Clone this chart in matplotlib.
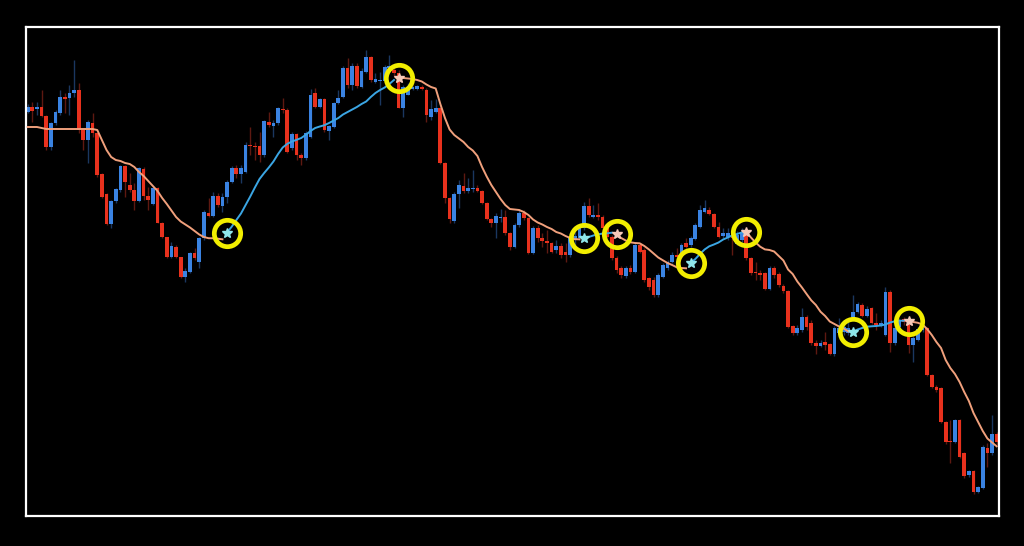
import matplotlib
matplotlib.use("Agg")
import matplotlib.pyplot as plt
import numpy as np

# candle prices (open / high / low / close), one value per bar
opens = [888, 893, 891, 893, 884, 853, 877, 887, 903, 902,
         907, 910, 870, 860, 877, 867, 826, 806, 776, 799,
         810, 834, 815, 810, 799, 831, 804, 796, 812, 777,
         763, 743, 753, 743, 723, 728, 747, 738, 762, 787,
         784, 804, 794, 803, 818, 832, 826, 828, 855, 854,
         854, 845, 878, 874, 877, 891, 890, 852, 866, 845,
         842, 863, 907, 893, 901, 869, 873, 897, 903, 932,
         915, 934, 913, 928, 943, 918, 919, 919, 932, 930,
         927, 892, 905, 911, 911, 913, 910, 883, 888, 892,
         837, 802, 779, 806, 814, 809, 811, 812, 809, 797,
         781, 777, 782, 783, 767, 753, 775, 787, 782, 747,
         772, 762, 759, 757, 750, 754, 748, 745, 760, 762,
         772, 794, 783, 785, 783, 772, 763, 742, 732, 724,
         732, 728, 755, 750, 722, 720, 705, 723, 732, 738,
         745, 743, 757, 755, 761, 773, 788, 790, 786, 773,
         764, 763, 766, 756, 760, 767, 742, 728, 727, 727,
         711, 732, 726, 714, 709, 674, 667, 670, 683, 677,
         657, 654, 658, 656, 646, 667, 668, 667, 683, 688,
         695, 684, 692, 677, 675, 665, 708, 657, 673, 681,
         681, 655, 660, 670, 672, 625, 613, 612, 578, 559,
         558, 580, 547, 525, 529, 508, 512, 552, 547, 566]

closes = [893, 889, 893, 884, 853, 877, 888, 903, 901, 907,
          910, 870, 860, 878, 867, 825, 803, 776, 799, 811,
          834, 818, 810, 799, 832, 804, 800, 812, 777, 763,
          743, 754, 743, 723, 729, 747, 742, 762, 788, 784,
          804, 795, 803, 818, 832, 826, 832, 855, 854, 853,
          845, 879, 875, 877, 892, 890, 848, 866, 845, 842,
          867, 905, 893, 901, 870, 874, 897, 902, 932, 915,
          934, 914, 929, 943, 920, 921, 920, 933, 934, 927,
          892, 913, 913, 913, 914, 911, 885, 891, 892, 837,
          802, 781, 806, 815, 809, 812, 812, 809, 797, 781,
          777, 784, 783, 767, 753, 775, 787, 782, 747, 772,
          762, 759, 757, 748, 754, 745, 745, 763, 764, 772,
          794, 785, 785, 783, 772, 763, 742, 730, 725, 732,
          728, 755, 748, 720, 713, 705, 725, 735, 738, 745,
          743, 755, 753, 762, 775, 790, 792, 786, 773, 763,
          767, 767, 762, 765, 768, 742, 727, 727, 725, 711,
          732, 725, 715, 709, 673, 667, 672, 683, 673, 657,
          654, 657, 655, 646, 672, 672, 673, 672, 688, 696,
          684, 691, 677, 675, 677, 708, 657, 672, 680, 678,
          655, 662, 671, 672, 625, 613, 610, 578, 558, 558,
          580, 543, 524, 529, 508, 513, 553, 547, 566, 558]

highs = [896, 898, 898, 910, 885, 878, 890, 910, 907, 915,
         940, 917, 870, 880, 887, 867, 827, 807, 800, 812,
         835, 835, 827, 817, 833, 833, 813, 813, 813, 778,
         763, 758, 755, 743, 732, 748, 752, 763, 790, 802,
         808, 807, 807, 820, 834, 835, 835, 858, 873, 858,
         868, 880, 888, 880, 893, 902, 892, 868, 867, 847,
         869, 911, 912, 902, 902, 875, 898, 910, 934, 942,
         937, 937, 932, 950, 944, 927, 928, 935, 945, 932,
         930, 915, 917, 914, 915, 915, 912, 900, 901, 893,
         838, 803, 808, 820, 827, 822, 830, 815, 810, 798,
         782, 787, 791, 790, 768, 777, 790, 790, 783, 774,
         775, 767, 770, 758, 760, 757, 757, 767, 768, 775,
         798, 802, 795, 797, 785, 774, 765, 744, 734, 734,
         735, 757, 757, 752, 723, 723, 727, 737, 740, 748,
         752, 757, 762, 764, 777, 795, 800, 793, 787, 778,
         772, 772, 768, 769, 772, 770, 743, 738, 730, 728,
         734, 734, 728, 716, 710, 675, 675, 692, 685, 680,
         660, 660, 668, 657, 674, 682, 680, 678, 705, 698,
         697, 694, 693, 687, 680, 713, 710, 677, 682, 683,
         682, 664, 673, 675, 673, 626, 615, 613, 579, 580,
         581, 581, 548, 530, 530, 514, 555, 557, 585, 568]

lows = [887, 878, 885, 883, 850, 850, 875, 885, 887, 885,
        903, 867, 850, 837, 863, 823, 802, 775, 772, 797,
        808, 803, 808, 790, 798, 800, 790, 795, 777, 762,
        742, 742, 742, 722, 718, 727, 740, 732, 760, 783,
        783, 793, 788, 797, 817, 822, 817, 827, 845, 840,
        838, 843, 873, 863, 875, 887, 847, 850, 840, 835,
        840, 862, 892, 892, 868, 860, 872, 896, 902, 912,
        910, 912, 912, 927, 918, 917, 895, 918, 928, 924,
        892, 883, 905, 910, 910, 910, 878, 880, 887, 836,
        797, 777, 777, 792, 807, 807, 808, 808, 796, 780,
        773, 762, 778, 765, 750, 752, 773, 780, 746, 746,
        758, 753, 747, 747, 747, 742, 738, 743, 755, 760,
        770, 783, 782, 780, 770, 762, 740, 727, 722, 722,
        726, 727, 747, 718, 710, 703, 703, 722, 730, 737,
        732, 742, 752, 753, 760, 772, 787, 785, 772, 762,
        762, 760, 745, 755, 758, 740, 725, 720, 720, 710,
        710, 722, 713, 707, 672, 665, 665, 668, 670, 655,
        646, 653, 650, 645, 644, 665, 665, 665, 682, 687,
        683, 683, 676, 670, 673, 664, 648, 655, 672, 675,
        647, 638, 659, 668, 624, 612, 608, 577, 556, 537,
        557, 542, 522, 523, 506, 507, 511, 533, 545, 555]

# moving average line
ma = [873, 873, 873, 872, 871, 871, 871, 871, 871, 871,
      871, 871, 871, 871, 871, 870, 860, 850, 843, 840,
      839, 837, 836, 833, 828, 824, 819, 814, 809, 802,
      796, 789.5, 783, 778.5, 775.5, 772.5, 769, 765.5, 763, 761.8,
      761.7, 761.3, 760.7, 767.5, 773.3, 780, 786.5, 795, 803.5, 812.5,
      821, 827, 832.5, 838.5, 846, 852.5, 856.2, 858.5, 860.2, 862,
      865.2, 869, 872, 873.5, 874.8, 877, 879.5, 882, 885.5, 888,
      890.5, 893, 896, 898.5, 903, 907, 910, 912.5, 916, 920,
      922.3, 922, 921.5, 921, 920, 918.5, 915.5, 913, 911.5, 896,
      882, 870.5, 865, 861.5, 858, 853, 849.5, 844, 833, 823.5,
      815, 808, 801, 795, 791, 790.5, 790, 788, 785, 780.5,
      777.5, 775.5, 773, 771, 768, 766.5, 764, 762, 760.8, 760.7,
      762.3, 763, 764.5, 765.7, 766.4, 766.7, 767.3, 765.7, 762, 759.5,
      757.7, 757, 756.7, 754, 750.5, 746.5, 742.5, 739.7, 737, 735,
      732.7, 732, 731.7, 737.3, 741, 746, 750.5, 753.7, 755.5, 757.5,
      760.5, 762.5, 764.7, 766, 767.5, 768.3, 762.5, 757.5, 753.3, 750.6,
      750, 748.5, 744, 739.5, 730.5, 726, 718.5, 712.5, 706, 699.7,
      695, 688.3, 684, 678.5, 676, 673.5, 671.5, 668.5, 668.3, 670.5,
      672, 673.3, 673.7, 674, 674.5, 675.5, 677.5, 678.7, 679.3, 679.3,
      679, 678, 677.2, 675.5, 671, 665, 658, 652, 640, 632,
      626, 618, 608, 599, 587, 578, 569, 561.5, 557.5, 553.7]

# bars where the average changes direction (first is a turn upward)
turns = [43, 80, 120, 127, 143, 155, 178, 190]

o = np.array(opens, dtype=float)
c = np.array(closes, dtype=float)
h = np.array(highs, dtype=float)
l = np.array(lows, dtype=float)
m = np.array(ma, dtype=float)
idx = np.arange(len(o))
up = c >= o

RED = "#e8311d"
BLUE = "#3a83e2"
MA_DOWN = "#f0a07c"
MA_UP = "#3ba6e4"

fig = plt.figure(figsize=(10.24, 5.46), dpi=100, facecolor="black")
ax = fig.add_axes([26 / 1024, 30 / 546, 973 / 1024, 489 / 546], facecolor="black")

# wicks
ax.vlines(idx[up], l[up], h[up], color="#1a3760", lw=1, zorder=1)
ax.vlines(idx[~up], l[~up], h[~up], color="#5e1911", lw=1, zorder=1)

# bodies
body = np.maximum(np.abs(c - o), 0.9)
ax.bar(idx, body, bottom=np.minimum(o, c), width=0.8,
       color=np.where(up, BLUE, RED), linewidth=0, zorder=2)

# moving average, coloured by direction
bounds = [0] + turns + [len(m)]
for i in range(len(bounds) - 1):
    s, e = bounds[i], bounds[i + 1]
    col = MA_UP if i % 2 == 1 else MA_DOWN
    ax.plot(idx[s:e], m[s:e], color=col, lw=1.4, zorder=3)

# turning point markers
for i, t in enumerate(turns):
    star_col = "#8fe6ea" if i % 2 == 0 else "#f6c9b8"
    ax.plot(t, m[t], marker="*", ms=7, color=star_col, zorder=4)
ax.plot(turns, m[turns], "o", mfc="none", mec="#f2ee00", ms=19, mew=3.4, zorder=5)

ax.set_xlim(-0.37, 209.5)
ax.set_ylim(484, 973)
ax.set_xticks([])
ax.set_yticks([])
for sp in ax.spines.values():
    sp.set_color("white")
    sp.set_linewidth(1.6)

fig.savefig("out.png", dpi=100, facecolor="black")
